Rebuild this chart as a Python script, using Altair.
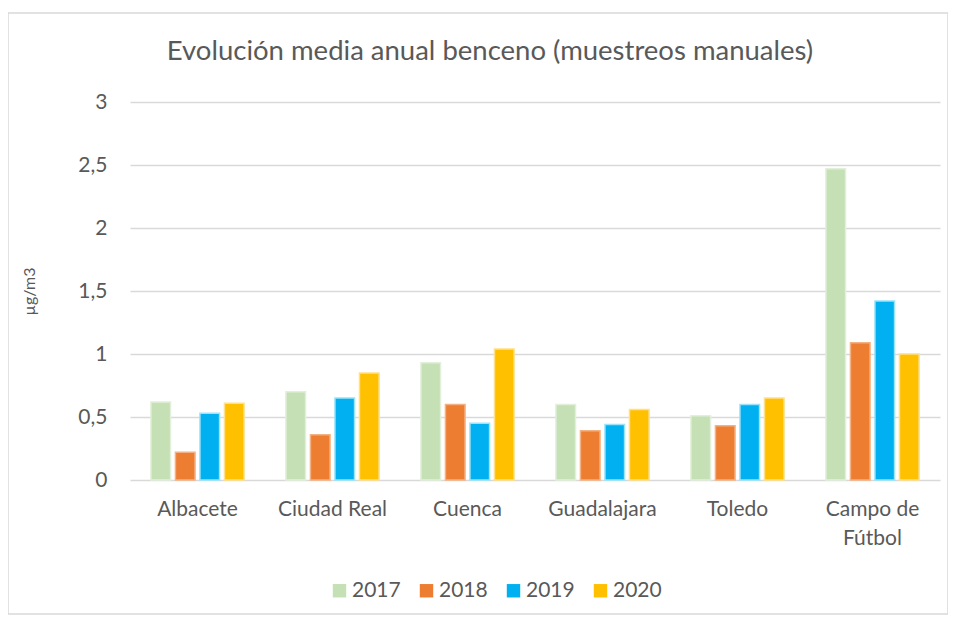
import altair as alt
import pandas as pd

cities = ["Albacete", "Ciudad Real", "Cuenca", "Guadalajara", "Toledo", "Campo de Fútbol"]
years = ["2017", "2018", "2019", "2020"]
v2017 = [0.62, 0.70, 0.93, 0.60, 0.51, 2.47]
v2018 = [0.22, 0.36, 0.60, 0.39, 0.43, 1.09]
v2019 = [0.53, 0.65, 0.45, 0.44, 0.60, 1.42]
v2020 = [0.61, 0.85, 1.04, 0.56, 0.65, 1.00]
colors = ["#C5E0B4", "#ED7D31", "#00B0F0", "#FFC000"]
strokes = ["#E2EFDA", "#F4B183", "#9BE3FA", "#FFE08A"]

rows = []
for yr, vals in zip(years, [v2017, v2018, v2019, v2020]):
    for c, v in zip(cities, vals):
        rows.append({"ciudad": c, "año": yr, "valor": v})
df = pd.DataFrame(rows)

FONT = "Lato"
W, H = 810, 378
PL, PT = 122, 94

bars = alt.Chart(df).mark_bar(strokeWidth=1.5).encode(
    x=alt.X("ciudad:N", sort=cities, title=None,
            scale=alt.Scale(paddingInner=0.31, paddingOuter=0.155),
            axis=alt.Axis(labelAngle=0, labelFontSize=21, labelColor="#595959",
                          labelFont=FONT, ticks=False, domain=False, grid=False,
                          labelPadding=18,
                          labelExpr="datum.label == 'Campo de Fútbol' ? ['Campo de', 'Fútbol'] : datum.label",
                          labelLineHeight=29)),
    xOffset=alt.XOffset("año:N", sort=years, scale=alt.Scale(paddingInner=0.2)),
    y=alt.Y("valor:Q", title="µg/m3",
            scale=alt.Scale(domain=[0, 3], nice=False),
            axis=alt.Axis(values=[0, 0.5, 1, 1.5, 2, 2.5, 3], labelFontSize=21,
                          labelColor="#595959", labelFont=FONT, ticks=False, domain=False,
                          labelPadding=23,
                          labelExpr="replace(format(datum.value, '~g'), '.', ',')",
                          gridColor="#D9D9D9", gridWidth=1.5,
                          titleFontSize=16, titleFont=FONT, titleColor="#595959",
                          titleFontWeight="normal", titlePadding=40)),
    color=alt.Color("año:N", sort=years,
                    scale=alt.Scale(domain=years, range=colors),
                    legend=alt.Legend(title=None, orient="none", direction="horizontal",
                                      legendX=199, legendY=478, symbolType="square",
                                      symbolSize=180, symbolStrokeWidth=0,
                                      labelFontSize=21, labelFont=FONT, labelColor="#595959",
                                      columnPadding=15, labelOffset=2)),
    stroke=alt.Stroke("año:N", sort=years,
                      scale=alt.Scale(domain=years, range=strokes), legend=None),
)

frame = alt.Chart(pd.DataFrame({"a": [0]})).mark_rect(
    fill=None, stroke="#D9D9D9", strokeWidth=1.5, clip=False
).encode(
    x=alt.value(-PL), x2=alt.value(W + 8),
    y=alt.value(-89), y2=alt.value(608 - PT - 2),
)

title = alt.Chart(pd.DataFrame({"t": ["Evolución media anual benceno (muestreos manuales)"]})).mark_text(
    fontSize=27.5, font=FONT, color="#595959", align="center", baseline="middle"
).encode(x=alt.value(360), y=alt.value(-50), text="t:N")

chart = alt.layer(frame, bars, title).properties(
    width=W, height=H,
    autosize=alt.AutoSizeParams(type="none"),
    padding={"left": PL, "top": PT, "right": 8, "bottom": 608 - PT - H},
    background="white",
).configure_view(stroke=None)

chart.save("out.html", embed_options={"renderer": "svg", "actions": False})
